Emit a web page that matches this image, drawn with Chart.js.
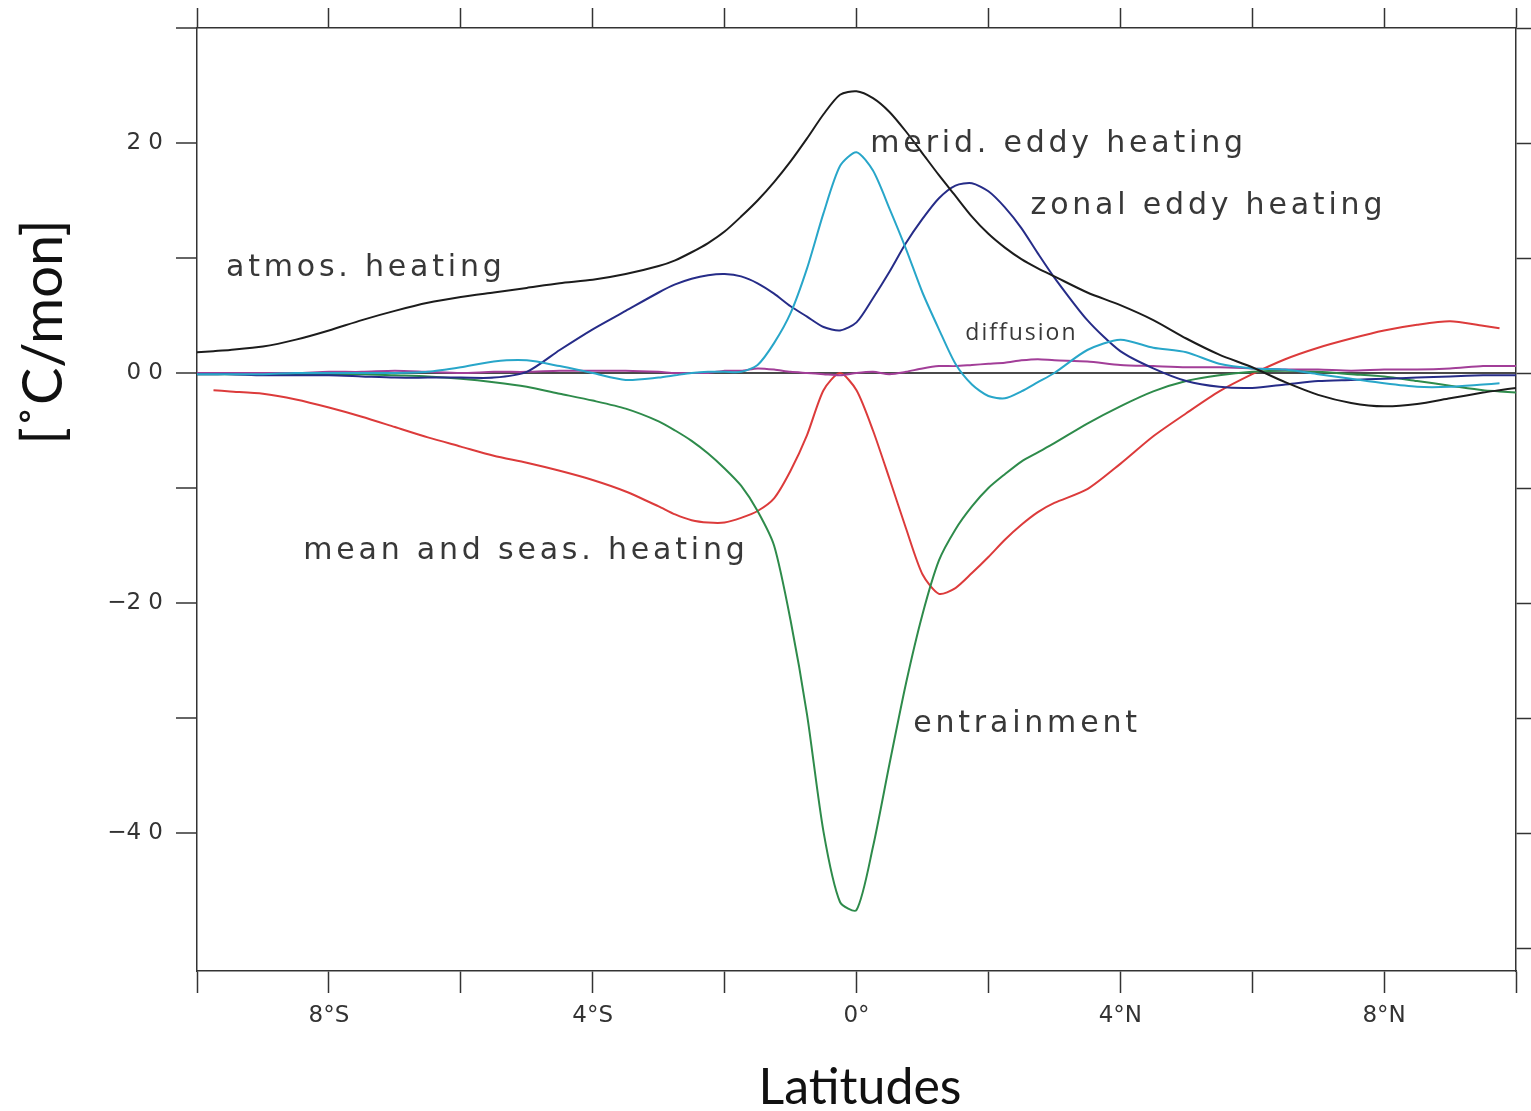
<!DOCTYPE html>
<html>
<head>
<meta charset="utf-8">
<script src="https://cdn.jsdelivr.net/npm/chart.js@4.4.1/dist/chart.umd.min.js"></script>
<style>
  html, body { margin: 0; padding: 0; background: #fff; }
  canvas { display: block; }
</style>
</head>
<body>
<canvas id="heatChart" width="1531" height="1111"></canvas>
<script>
// latitude grid (deg, negative = south)
var lats = [-10, -9.75, -9.5, -9, -8.5, -8, -7.5, -7, -6.5, -6, -5.5, -5, -4.5, -4, -3.5,
  -3, -2.75, -2.5, -2.25, -2, -1.75, -1.5, -1.25, -1, -0.75, -0.5, -0.25, 0, 0.25, 0.5, 0.75,
  1, 1.25, 1.5, 1.75, 2, 2.25, 2.5, 2.75, 3,
  3.5, 4, 4.5, 5, 5.5, 6, 6.5, 7, 7.5, 8, 8.5, 9, 9.5, 9.75, 10];

// heating terms, degC per month
var atmosHeating = [1.8, 1.9, 2.0, 2.3, 2.9, 3.7, 4.6, 5.4, 6.1, 6.6, 7.0, 7.4, 7.8, 8.1, 8.6,
  9.3, 9.8, 10.5, 11.3, 12.3, 13.6, 15.0, 16.6, 18.4, 20.4, 22.5, 24.2, 24.5, 23.9, 22.7, 21.0,
  19.1, 17.2, 15.4, 13.6, 12.1, 10.9, 9.9, 9.1, 8.4,
  7.0, 5.9, 4.6, 3.0, 1.6, 0.5, -0.8, -1.9, -2.6, -2.9, -2.7, -2.2, -1.7, -1.5, -1.3];

var meridEddy = [-0.1, -0.1, -0.1, -0.1, 0, 0, 0, 0, 0.1, 0.5, 1.0, 1.1, 0.6, 0, -0.6,
  -0.4, -0.2, 0, 0.1, 0.1, 0.1, 0.7, 2.6, 5.2, 9.1, 13.9, 18.0, 19.2, 17.6, 14.3, 10.8,
  7.0, 3.8, 0.8, -1.0, -2.0, -2.2, -1.6, -0.8, 0,
  2.0, 2.9, 2.2, 1.8, 0.8, 0.4, 0.3, -0.1, -0.5, -0.9, -1.2, -1.2, -1.0, -0.9, null];

var zonalEddy = [-0.1, -0.1, -0.1, -0.2, -0.2, -0.2, -0.3, -0.4, -0.4, -0.4, -0.4, 0.1, 2.0, 3.8, 5.4,
  7.0, 7.7, 8.2, 8.5, 8.6, 8.4, 7.8, 6.9, 5.8, 4.9, 4.0, 3.7, 4.4, 6.5, 8.8, 11.3,
  13.4, 15.2, 16.3, 16.5, 15.8, 14.4, 12.6, 10.4, 8.3,
  4.6, 1.9, 0.4, -0.7, -1.2, -1.3, -1.0, -0.7, -0.6, -0.5, -0.4, -0.3, -0.2, -0.2, -0.2];

var diffusion = [0, 0, 0, 0, 0, 0.1, 0.1, 0.2, 0.1, 0, 0.1, 0.1, 0.2, 0.2, 0.2,
  0.1, 0, 0, 0, 0.2, 0.2, 0.4, 0.3, 0.1, 0, -0.1, -0.2, 0, 0.1, -0.1, 0.1,
  0.4, 0.6, 0.6, 0.7, 0.8, 0.9, 1.1, 1.2, 1.1,
  1.0, 0.7, 0.6, 0.5, 0.5, 0.4, 0.3, 0.3, 0.2, 0.3, 0.3, 0.4, 0.6, 0.6, 0.6];

var entrainment = [-0.1, -0.1, -0.1, -0.1, -0.1, -0.1, -0.1, -0.2, -0.3, -0.5, -0.8, -1.2, -1.8, -2.4, -3.1,
  -4.2, -5.0, -5.9, -7.0, -8.3, -9.8, -12.0, -15.0, -21.5, -29.7, -39.9, -46.0, -46.7, -41.2, -34.0, -27.0,
  -21.0, -16.3, -13.6, -11.6, -10.0, -8.8, -7.7, -6.9, -6.1,
  -4.4, -2.9, -1.6, -0.7, -0.2, 0.1, 0.2, 0.1, -0.1, -0.3, -0.7, -1.1, -1.5, -1.6, -1.7];

var meanSeas = [null, -1.5, -1.6, -1.8, -2.3, -3.0, -3.8, -4.7, -5.6, -6.4, -7.2, -7.8, -8.5, -9.3, -10.3,
  -11.6, -12.3, -12.8, -13.0, -13.0, -12.6, -12.0, -10.9, -8.5, -5.4, -1.5, 0, -1.5, -5.0, -9.2, -13.5,
  -17.5, -19.2, -18.7, -17.4, -16.0, -14.5, -13.2, -12.1, -11.3,
  -10.1, -7.9, -5.5, -3.5, -1.6, -0.1, 1.2, 2.2, 3.0, 3.7, 4.2, 4.5, 4.1, 3.9, null];

// axis tick labels
var latTicks = [-8, -4, 0, 4, 8];
var latTickLabels = ['8°S', '4°S', '0°', '4°N', '8°N'];
var valTicks = [20, 0, -20, -40];
var valTickLabels = ['2 0', '0 0', '\u22122 0', '\u22124 0'];

// curve names written next to the lines (lat, value of the text's left middle)
var curveLabels = [
  { text: 'atmos. heating', lat: -9.56, val: 9.1, big: true },
  { text: 'merid. eddy heating', lat: 0.21, val: 19.9, big: true },
  { text: 'zonal eddy heating', lat: 2.64, val: 14.5, big: true },
  { text: 'diffusion', lat: 1.65, val: 3.4, big: false },
  { text: 'mean and seas. heating', lat: -8.39, val: -15.5, big: true },
  { text: 'entrainment', lat: 0.86, val: -30.5, big: true }
];

function points(series) {
  return lats.map(function(lat, i) { return { x: lat, y: series[i] }; });
}

function line(name, series, colour) {
  return {
    label: name,
    data: points(series),
    borderColor: colour,
    backgroundColor: colour,
    borderWidth: 2,
    pointRadius: 0,
    tension: 0.25,
    fill: false,
    spanGaps: false
  };
}

var axisColour = '#333';

function tensOnly(scale) {
  scale.ticks = scale.ticks.filter(function(t) { return t.value % 10 === 0; });
}

var labelsPlugin = {
  id: 'curveLabels',
  afterDatasetsDraw: function(chart) {
    var ctx = chart.ctx;
    var xs = chart.scales.x, ys = chart.scales.y;
    ctx.save();
    ctx.fillStyle = '#383838';
    ctx.textBaseline = 'middle';
    ctx.textAlign = 'left';
    curveLabels.forEach(function(l) {
      if (l.big) {
        ctx.font = '30px "DejaVu Sans"';
        ctx.letterSpacing = '3.8px';
      } else {
        ctx.font = '23px "Open Sans"';
        ctx.letterSpacing = '2px';
      }
      ctx.fillText(l.text, xs.getPixelForValue(l.lat), ys.getPixelForValue(l.val));
    });
    ctx.restore();
  },
  afterDraw: function(chart) {
    var ctx = chart.ctx;
    ctx.save();
    ctx.fillStyle = '#111';
    ctx.textAlign = 'center';
    ctx.textBaseline = 'middle';
    ctx.font = '50px Lato';
    ctx.fillText('Latitudes', 860, 1088);
    ctx.translate(44, 332);
    ctx.rotate(-Math.PI / 2);
    ctx.font = '56px Lato';
    ctx.fillText('[˚C/mon]', 0, 0);
    ctx.restore();
  }
};

var ctx = document.getElementById('heatChart').getContext('2d');
var chart = new Chart(ctx, {
  type: 'line',
  data: {
    datasets: [
      line('atmos. heating', atmosHeating, '#1c1c1c'),
      line('merid. eddy heating', meridEddy, '#28a6c9'),
      line('zonal eddy heating', zonalEddy, '#262c88'),
      line('diffusion', diffusion, '#a23e98'),
      line('entrainment', entrainment, '#2e8b4b'),
      line('mean and seas. heating', meanSeas, '#dc3b3b')
    ]
  },
  options: {
    responsive: false,
    animation: false,
    layout: { padding: 0 },
    plugins: {
      legend: { display: false },
      tooltip: { enabled: false }
    },
    scales: {
      x: {
        type: 'linear',
        position: 'bottom',
        min: -10,
        max: 10,
        afterFit: function(s) { s.height = 140; },
        ticks: {
          stepSize: 2,
          autoSkip: false,
          maxRotation: 0,
          padding: 9,
          color: axisColour,
          font: { family: 'DejaVu Sans', size: 23 },
          callback: function(v) {
            var i = latTicks.indexOf(v);
            return i < 0 ? '' : latTickLabels[i];
          }
        },
        grid: { drawOnChartArea: false, tickLength: 22, tickColor: axisColour, tickWidth: 1.5 },
        border: { color: axisColour, width: 1.5 }
      },
      xTop: {
        type: 'linear',
        position: 'top',
        min: -10,
        max: 10,
        afterFit: function(s) { s.height = 28; },
        ticks: { stepSize: 2, display: false },
        grid: { drawOnChartArea: false, tickLength: 20, tickColor: axisColour, tickWidth: 1.5 },
        border: { color: axisColour, width: 1.5 }
      },
      y: {
        position: 'left',
        min: -52,
        max: 30,
        afterBuildTicks: tensOnly,
        afterFit: function(s) { s.width = 197; },
        ticks: {
          stepSize: 10,
          padding: 13,
          color: axisColour,
          font: { family: 'DejaVu Sans', size: 23 },
          callback: function(v) {
            var i = valTicks.indexOf(v);
            return i < 0 ? '' : valTickLabels[i];
          }
        },
        grid: {
          color: function(c) { return c.tick && c.tick.value === 0 ? '#4a4a4a' : 'rgba(0,0,0,0)'; },
          lineWidth: 2,
          tickLength: 21,
          tickColor: axisColour,
          tickWidth: 1.5
        },
        border: { color: axisColour, width: 1.5 }
      },
      yRight: {
        position: 'right',
        min: -52,
        max: 30,
        afterBuildTicks: tensOnly,
        afterFit: function(s) { s.width = 15; },
        ticks: { stepSize: 10, display: false },
        grid: { drawOnChartArea: false, tickLength: 15, tickColor: axisColour, tickWidth: 1.5 },
        border: { color: axisColour, width: 1.5 }
      }
    }
  },
  plugins: [labelsPlugin]
});
</script>
</body>
</html>
